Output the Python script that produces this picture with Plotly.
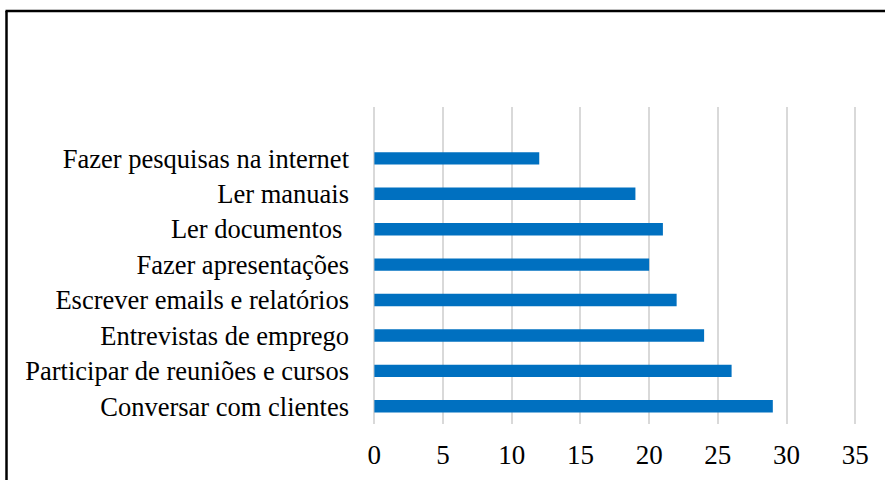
import plotly.graph_objects as go

categories = [
    "Conversar com clientes",
    "Participar de reuniões e cursos",
    "Entrevistas de emprego",
    "Escrever emails e relatórios",
    "Fazer apresentações",
    "Ler documentos\u00a0",
    "Ler manuais",
    "Fazer pesquisas na internet",
]
values = [29, 26, 24, 22, 20, 21, 19, 12]
x_ticks = [0, 5, 10, 15, 20, 25, 30, 35]

fig = go.Figure(go.Bar(
    x=values, y=categories, orientation="h",
    marker=dict(color="#0070C0", line=dict(width=0)),
    width=0.35,
))

W, H = 885, 480
L, R, T, B = 373, 27, 107, 56
pw, ph = W - L - R, H - T - B

def px_x(x):
    return (x - L) / pw

def px_y(y):
    return 1 - (y - T) / ph

fig.update_layout(
    width=W, height=H,
    margin=dict(l=L, r=R, t=T, b=B, autoexpand=False),
    paper_bgcolor="white", plot_bgcolor="white",
    font=dict(family="Liberation Serif, Times New Roman, serif", size=26.5, color="black"),
    showlegend=False,
    xaxis=dict(
        range=[-0.1, 35.2], tickvals=x_ticks, ticktext=[str(v) for v in x_ticks],
        showgrid=True, gridcolor="#D9D9D9", gridwidth=1.5,
        zeroline=True, zerolinecolor="#D9D9D9", zerolinewidth=1.5,
        showline=False, ticks="",
        ticklabelstandoff=12, automargin=False,
        tickfont=dict(size=27),
        layer="below traces",
    ),
    yaxis=dict(
        type="category", categoryorder="array", categoryarray=categories,
        range=[-0.5, 8.45],
        showgrid=False, zeroline=False, showline=False, ticks="",
        ticklabelstandoff=23, automargin=False,
    ),
    shapes=[
        dict(type="line", xref="paper", yref="paper",
             x0=px_x(6.5), x1=px_x(6.5), y0=px_y(11), y1=px_y(500),
             line=dict(color="black", width=2.5)),
        dict(type="line", xref="paper", yref="paper",
             x0=px_x(5.5), x1=px_x(900), y0=px_y(11), y1=px_y(11),
             line=dict(color="black", width=2.5)),
    ],
)

fig.write_html("out.html", config={"displayModeBar": False},
               post_script="document.body.style.margin='0';")
